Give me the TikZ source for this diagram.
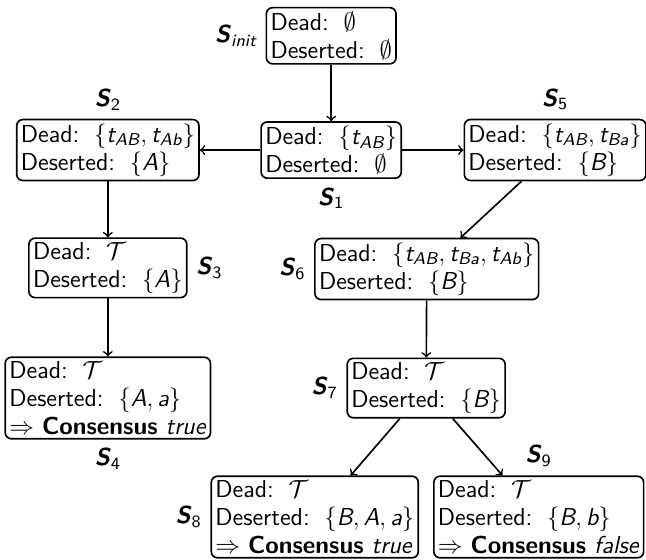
\documentclass[tikz,border=0pt]{standalone}
\usepackage{amsmath}
\usetikzlibrary{positioning}
\newcommand{\stname}[1]{$\textbf{\textit{S}}_{\text{#1}}$}
\newcommand{\tr}[1]{\textit{t}_{\textit{#1}}}
\newcommand{\ag}[1]{\textit{#1}}
\tikzset{
  state/.style={draw, thick, rounded corners=3pt, align=left, inner sep=2pt,
    font=\fontsize{11.9}{13.6}\selectfont\sffamily},
  lab/.style={font=\fontsize{11.9}{13.6}\selectfont\sffamily, inner sep=2pt},
  edge/.style={->, thick},
  every label/.style={label distance=2pt}
}
\begin{document}
\begin{tikzpicture}
\useasboundingbox (0,0) rectangle (11.02,-9.54);
% states
\node [state, label={[lab]left:\stname{\itshape init}}] (init) at (5.65,-0.61) {Dead: $\,\emptyset$\\Deserted: $\,\emptyset$};
\node [state, label={[lab]below:\stname{1}}] (s1) at (5.65,-2.56) {Dead: $\,\{\tr{AB}\}$\\Deserted: $\,\emptyset$};
\node [state, label={[lab]above:\stname{2}}] (s2) at (1.84,-2.56) {Dead: $\,\{\tr{AB}, \tr{Ab}\}$\\Deserted: $\,\{\ag{A}\}$};
\node [state, label={[lab]above:\stname{5}}] (s5) at (9.47,-2.56) {Dead: $\,\{\tr{AB}, \tr{Ba}\}$\\Deserted: $\,\{\ag{B}\}$};
\node [state, label={[lab]right:\stname{3}}] (s3) at (1.84,-4.57) {Dead: $\,\mathcal{T}$\\Deserted: $\,\{\ag{A}\}$};
\node [state, label={[lab]left:\stname{6}}] (s6) at (7.28,-4.59) {Dead: $\,\{\tr{AB}, \tr{Ba}, \tr{Ab}\}$\\Deserted: $\,\{\ag{B}\}$};
\node [state, label={[lab]below:\stname{4}}] (s4) at (1.84,-6.79) {Dead: $\,\mathcal{T}$\\Deserted: $\,\{\ag{A}, \ag{a}\}$\\$\Rightarrow$ \textbf{Consensus} \textit{true}};
\node [state, label={[lab]left:\stname{7}}] (s7) at (7.27,-6.62) {Dead: $\,\mathcal{T}$\\Deserted: $\,\{\ag{B}\}$};
\node [state, label={[lab]left:\stname{8}}] (s8) at (5.37,-8.82) {Dead: $\,\mathcal{T}$\\Deserted: $\,\{\ag{B}, \ag{A}, \ag{a}\}$\\$\Rightarrow$ \textbf{Consensus} \textit{true}};
\node [state, label={[lab]above:\stname{9}}] (s9) at (9.19,-8.82) {Dead: $\,\mathcal{T}$\\Deserted: $\,\{\ag{B}, \ag{b}\}$\\$\Rightarrow$ \textbf{Consensus} \textit{false}};
% transitions
\draw [edge] (init) -- (s1);
\draw [edge] (s1) -- (s2);
\draw [edge] (s1) -- (s5);
\draw [edge] (s2) -- (s3);
\draw [edge] (s3) -- (s4);
\draw [edge] (s5) -- (s6);
\draw [edge] (s6) -- (s7);
\draw [edge] (s7) -- (s8);
\draw [edge] (s7) -- (s9);
\end{tikzpicture}
\end{document}
